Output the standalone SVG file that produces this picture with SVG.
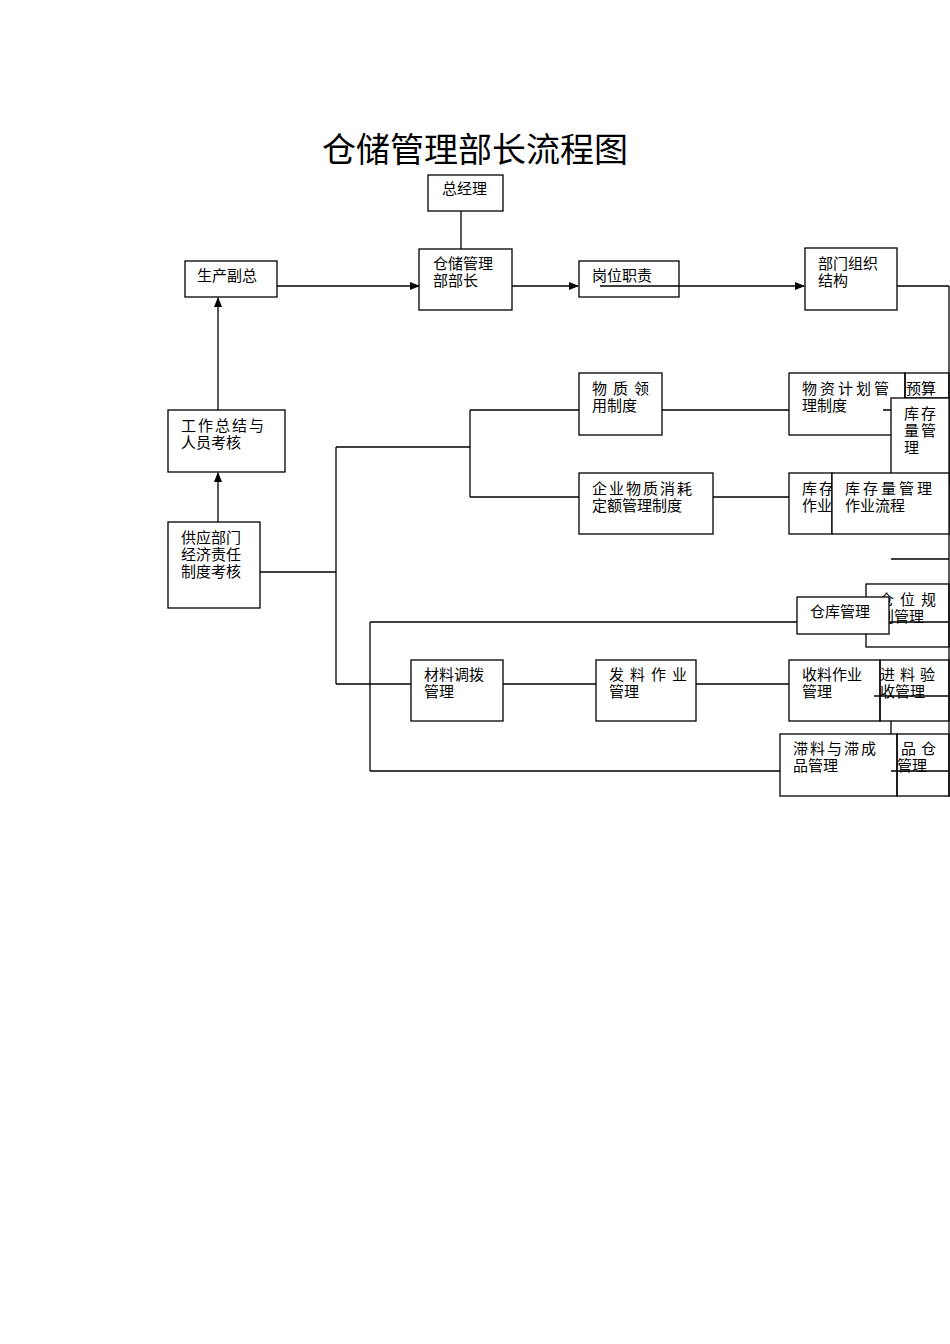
<svg xmlns="http://www.w3.org/2000/svg" width="950" height="1344" viewBox="0 0 950 1344">
<style>
rect{fill:none;stroke:#000;stroke-width:1.3}
line,polyline{stroke:#000;stroke-width:1.3;fill:none}
text{font-family:"Liberation Serif","Noto Sans CJK SC",serif;font-size:15px;fill:#000}
.t{font-size:34px}
</style>
<defs><marker id="a" markerWidth="10" markerHeight="10" refX="9" refY="5" orient="auto" markerUnits="userSpaceOnUse"><path d="M0,1 L10,5 L0,9z" fill="#000"/></marker></defs>
<rect x="0" y="0" width="950" height="1344" style="fill:#fff;stroke:none"/>
<text class="t" x="475" y="162" text-anchor="middle">仓储管理部长流程图</text>
<g id="connectors">
<line x1="461" y1="211" x2="461" y2="249"/>
<line x1="277" y1="286" x2="419" y2="286" marker-end="url(#a)"/>
<line x1="512" y1="286" x2="578" y2="286" marker-end="url(#a)"/>
<line x1="600" y1="286" x2="804" y2="286" marker-end="url(#a)"/>
<line x1="897" y1="286" x2="949" y2="286"/>
<line x1="949" y1="286" x2="949" y2="797"/>
<line x1="218" y1="410" x2="218" y2="298" marker-end="url(#a)"/>
<line x1="218" y1="522" x2="218" y2="473" marker-end="url(#a)"/>
<line x1="260" y1="572" x2="336" y2="572"/>
<line x1="336" y1="447" x2="336" y2="684"/>
<line x1="336" y1="447" x2="470" y2="447"/>
<line x1="470" y1="410" x2="470" y2="497"/>
<line x1="470" y1="410" x2="579" y2="410"/>
<line x1="470" y1="497" x2="579" y2="497"/>
<line x1="662" y1="410" x2="789" y2="410"/>
<line x1="883" y1="410" x2="949" y2="410"/>
<line x1="905" y1="448" x2="949" y2="448"/>
<line x1="713" y1="497" x2="789" y2="497"/>
<line x1="891" y1="559" x2="949" y2="559"/>
<line x1="370" y1="622" x2="797" y2="622"/>
<line x1="883" y1="622" x2="949" y2="622"/>
<line x1="370" y1="622" x2="370" y2="771"/>
<line x1="370" y1="771" x2="780" y2="771"/>
<line x1="336" y1="684" x2="411" y2="684"/>
<line x1="503" y1="684" x2="596" y2="684"/>
<line x1="696" y1="684" x2="789" y2="684"/>
<line x1="874" y1="696" x2="949" y2="696"/>
<line x1="891" y1="721" x2="891" y2="734"/>
<line x1="891" y1="771" x2="949" y2="771"/>
</g>
<g id="n1"><rect x="428" y="175" width="75" height="36"/><text x="442" y="194">总经理</text></g>
<g id="n2"><rect x="419" y="249" width="93" height="61"/><text x="433" y="269">仓储管理</text><text x="433" y="286">部部长</text></g>
<g id="n3"><rect x="185" y="261" width="92" height="36"/><text x="197" y="281">生产副总</text></g>
<g id="n4"><rect x="579" y="261" width="100" height="36"/><text x="592" y="281">岗位职责</text></g>
<g id="n5"><rect x="805" y="248" width="92" height="62"/><text x="818" y="269">部门组织</text><text x="818" y="286">结构</text></g>
<g id="n6"><rect x="168" y="410" width="117" height="62"/><text x="181" y="431" letter-spacing="2">工作总结与</text><text x="181" y="448">人员考核</text></g>
<g id="n7"><rect x="168" y="522" width="92" height="86"/><text x="181" y="543">供应部门</text><text x="181" y="560">经济责任</text><text x="181" y="577">制度考核</text></g>
<g id="n8"><rect x="579" y="373" width="83" height="62"/><text x="592" y="394" letter-spacing="6">物质领</text><text x="592" y="411">用制度</text></g>
<g id="n9"><rect x="789" y="373" width="116" height="62"/><text x="802" y="394" letter-spacing="3">物资计划管</text><text x="802" y="411">理制度</text></g>
<g id="n10"><rect x="905" y="373" width="44" height="25"/><text x="906" y="394">预算</text></g>
<g id="n11"><rect x="891" y="398" width="58" height="86" style="fill:#fff"/><text x="904" y="419" letter-spacing="2">库存</text><text x="904" y="436" letter-spacing="2">量管</text><text x="904" y="453">理</text></g>
<g id="n12"><rect x="579" y="473" width="134" height="61"/><text x="592" y="494" letter-spacing="2">企业物质消耗</text><text x="592" y="511">定额管理制度</text></g>
<g id="n13"><rect x="789" y="473" width="43" height="61"/><text x="802" y="494" letter-spacing="2">库存</text><text x="802" y="511">作业</text></g>
<g id="n14"><rect x="832" y="473" width="117" height="61" style="fill:#fff"/><text x="845" y="494" letter-spacing="3">库存量管理</text><text x="845" y="511">作业流程</text></g>
<g id="n15"><rect x="866" y="584" width="83" height="63"/><text x="879" y="605" letter-spacing="6">仓位规</text><text x="879" y="622">划管理</text></g>
<g id="n16"><rect x="797" y="597" width="92" height="37" style="fill:#fff"/><text x="810" y="617">仓库管理</text></g>
<g id="n17"><rect x="411" y="660" width="92" height="61"/><text x="424" y="680">材料调拨</text><text x="424" y="697">管理</text></g>
<g id="n18"><rect x="596" y="660" width="100" height="61"/><text x="609" y="680" letter-spacing="6">发料作业</text><text x="609" y="697">管理</text></g>
<g id="n19"><rect x="789" y="660" width="91" height="61"/><text x="802" y="680">收料作业</text><text x="802" y="697">管理</text></g>
<g id="n20"><rect x="880" y="660" width="69" height="61"/><text x="880" y="680" letter-spacing="5">进料验</text><text x="880" y="697">收管理</text></g>
<g id="n21"><rect x="780" y="734" width="117" height="62"/><text x="793" y="754" letter-spacing="2">滞料与滞成</text><text x="793" y="771">品管理</text></g>
<g id="n22"><rect x="897" y="734" width="52" height="62"/><text x="901" y="754" letter-spacing="5">品仓</text><text x="897" y="771">管理</text></g>
</svg>
